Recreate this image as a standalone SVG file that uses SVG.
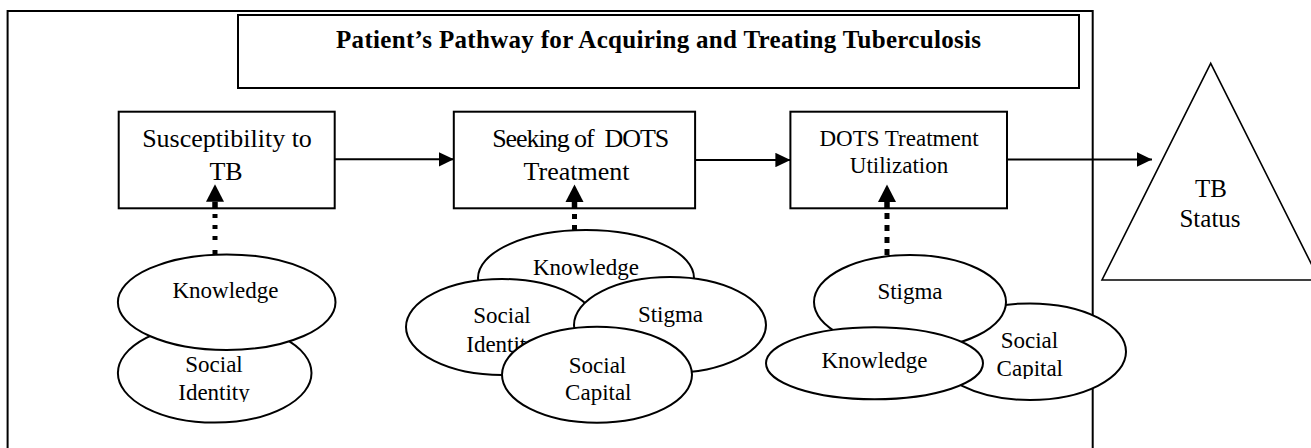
<svg xmlns="http://www.w3.org/2000/svg" width="1311" height="448" viewBox="0 0 1311 448">
  <style>
    .frame { fill: none; stroke: #000; stroke-width: 2; }
    .box { fill: #fff; stroke: #000; stroke-width: 2; }
    .ell { fill: #fff; stroke: #000; stroke-width: 2; }
    text { font-family: "Liberation Serif", "Times New Roman", serif; fill: #000; text-anchor: middle; }
    .title { font-size: 25px; font-weight: bold; }
    .lbl { font-size: 26px; }
    .lbl-s { font-size: 23px; }
    .lbl-e { font-size: 23px; }
    .lbl-t { font-size: 25px; }
    .flow { fill: none; stroke: #000; stroke-width: 2; marker-end: url(#head); }
    .dots { fill: none; stroke: #000; stroke-width: 5; }
    .stub { fill: none; stroke: #000; stroke-width: 5.5; marker-end: url(#headUp); }
  </style>
  <defs>
    <marker id="head" viewBox="0 0 15 14.4" refX="15" refY="7.2" markerWidth="15" markerHeight="14.4" markerUnits="userSpaceOnUse" orient="auto">
      <path d="M0,0 L15,7.2 L0,14.4 Z" fill="#000"/>
    </marker>
    <marker id="headUp" viewBox="0 -9 17.4 18" refX="0" refY="0" markerWidth="17.4" markerHeight="18" markerUnits="userSpaceOnUse" orient="auto" overflow="visible">
      <path d="M0,-9 L17.4,0 L0,9 Z" fill="#000"/>
    </marker>
    <clipPath id="clipIdentity"><rect x="100" y="300" width="250" height="102"/></clipPath>
    <clipPath id="clipCapital"><rect x="930" y="300" width="200" height="79"/></clipPath>
  </defs>

  <!-- outer frame, open at the bottom -->
  <path class="frame" d="M7.6,460 V11 H1092.7 V460"/>

  <g id="title">
    <rect class="box" x="238" y="15" width="841" height="73" stroke-width="1.6"/>
    <text class="title" x="658.5" y="48" textLength="645">Patient’s Pathway for Acquiring and Treating Tuberculosis</text>
  </g>

  <g id="susceptibility">
    <rect class="box" x="118.7" y="111.7" width="216" height="96.6"/>
    <text class="lbl" x="227" y="147">Susceptibility to</text>
    <text class="lbl" x="226" y="179.5">TB</text>
  </g>

  <g id="seeking">
    <rect class="box" x="453.8" y="111.7" width="241.3" height="96.6"/>
    <text class="lbl" x="580.7" y="147" textLength="177" xml:space="preserve">Seeking of  DOTS</text>
    <text class="lbl" x="576.5" y="180">Treatment</text>
  </g>

  <g id="utilization">
    <rect class="box" x="790.4" y="111.7" width="216.6" height="96.6"/>
    <text class="lbl-s" x="899" y="146">DOTS Treatment</text>
    <text class="lbl-s" x="899" y="172.7">Utilization</text>
  </g>

  <g id="tb-status">
    <polygon points="1210.7,63.3 1102,280 1319.4,280" fill="#fff" stroke="#000" stroke-width="1.6"/>
    <text class="lbl-t" x="1211" y="196.7">TB</text>
    <text class="lbl-t" x="1210" y="226.7">Status</text>
  </g>

  <!-- factors behind susceptibility -->
  <g id="factors-susceptibility">
    <g id="f1-social-identity">
      <ellipse class="ell" cx="214.7" cy="373" rx="96.8" ry="49.6"/>
      <text class="lbl-e" x="214" y="371.7">Social</text>
      <text class="lbl-e" x="214" y="400" clip-path="url(#clipIdentity)">Identity</text>
    </g>
    <g id="f1-knowledge">
      <ellipse class="ell" cx="226.7" cy="302.2" rx="108.8" ry="47.8"/>
      <text class="lbl-e" x="225.5" y="298">Knowledge</text>
    </g>
  </g>

  <!-- factors behind seeking of treatment -->
  <g id="factors-seeking">
    <g id="f2-knowledge">
      <ellipse class="ell" cx="586" cy="278" rx="108" ry="48"/>
      <text class="lbl-e" x="586" y="275">Knowledge</text>
    </g>
    <g id="f2-social-identity">
      <ellipse class="ell" cx="502" cy="327" rx="96" ry="48"/>
      <text class="lbl-e" x="502" y="323">Social</text>
      <text class="lbl-e" x="502" y="351.7">Identity</text>
    </g>
    <g id="f2-stigma">
      <ellipse class="ell" cx="670" cy="325" rx="96" ry="48"/>
      <text class="lbl-e" x="670.5" y="321.7">Stigma</text>
    </g>
    <g id="f2-social-capital">
      <ellipse class="ell" cx="597" cy="374.7" rx="95" ry="48"/>
      <text class="lbl-e" x="597.5" y="372.7">Social</text>
      <text class="lbl-e" x="598.3" y="400">Capital</text>
    </g>
  </g>

  <!-- factors behind treatment utilization -->
  <g id="factors-utilization">
    <g id="f3-social-capital">
      <ellipse class="ell" cx="1030" cy="351.7" rx="96" ry="48.3"/>
      <text class="lbl-e" x="1029.4" y="348.3">Social</text>
      <text class="lbl-e" x="1029.8" y="376" clip-path="url(#clipCapital)">Capital</text>
    </g>
    <g id="f3-stigma">
      <ellipse class="ell" cx="910" cy="302" rx="96" ry="47"/>
      <text class="lbl-e" x="910" y="299">Stigma</text>
    </g>
    <g id="f3-knowledge">
      <ellipse class="ell" cx="874.5" cy="363.3" rx="108.5" ry="36"/>
      <text class="lbl-e" x="874.5" y="367.7">Knowledge</text>
    </g>
  </g>

  <g id="connectors">
    <!-- main pathway -->
    <path class="flow" d="M334.7,159.3 H453.8"/>
    <path class="flow" d="M695.1,160 H790.4"/>
    <path class="flow" d="M1007,159.5 H1152"/>
    <!-- influence links from factor clusters -->
    <path class="dots" d="M215,255 V208" stroke-dasharray="5 10 4 7 4 7 4 20"/>
    <path class="stub" d="M215,208.5 V201.7"/>
    <path class="dots" d="M574.5,231 V208" stroke-dasharray="6 6 5 20"/>
    <path class="stub" d="M574.5,208.5 V202"/>
    <path class="dots" d="M887,255 V208" stroke-dasharray="6 6 6 6 6 6 6 20"/>
    <path class="stub" d="M887,208.5 V202"/>
  </g>
</svg>
